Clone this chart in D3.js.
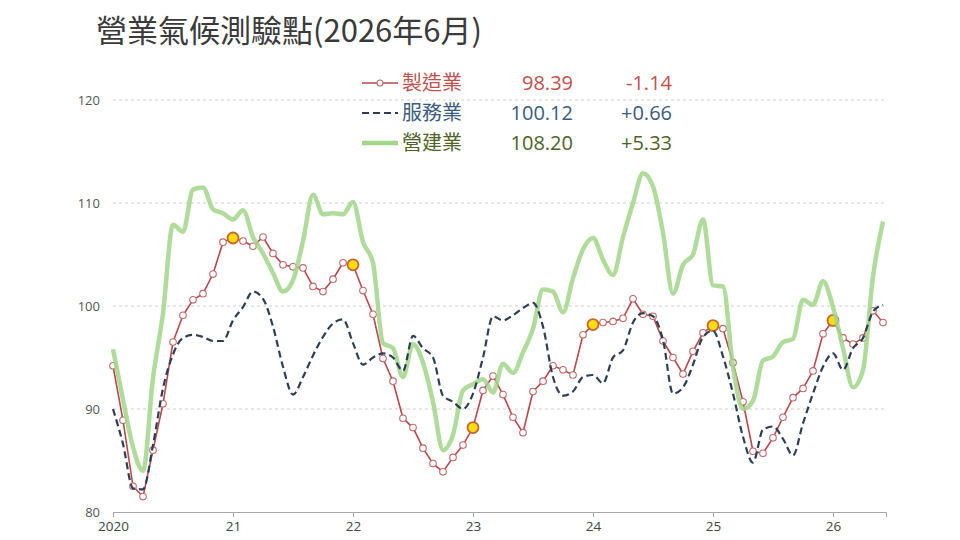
<!DOCTYPE html>
<html>
<head>
<meta charset="utf-8">
<script src="https://cdn.jsdelivr.net/npm/d3@7"></script>
<style>
  body { margin: 0; background: #fff; }
  svg { display: block; }
</style>
</head>
<body>
<script>
// monthly index: 0 = 2020-01 ... 77 = 2026-06
const yearTicks = [0, 12, 24, 36, 48, 60, 72];
const yearLabels = ["2020", "21", "22", "23", "24", "25", "26"];
const yTicks = [80, 90, 100, 110, 120];

const manufacturing = [
  94.2, 88.9, 82.5, 81.5, 86.0, 90.5, 96.5, 99.1, 100.6, 101.2, 103.1, 106.2,
  106.6, 106.3, 105.8, 106.7, 105.1, 104.0, 103.8, 103.7, 101.9, 101.4, 102.6, 104.2,
  104.0, 101.5, 99.2, 94.9, 92.7, 89.1, 88.2, 86.2, 84.7, 83.9, 85.3, 86.5,
  88.2, 91.8, 93.2, 91.4, 89.2, 87.7, 91.7, 92.7, 94.2, 93.8, 93.3, 97.2,
  98.2, 98.4, 98.5, 98.8, 100.7, 99.2, 99.0, 96.6, 95.0, 93.4, 95.6, 97.4,
  98.1, 97.8, 94.5, 90.7, 85.9, 85.7, 87.2, 89.2, 91.1, 92.0, 93.7, 97.3,
  98.6, 96.9, 96.3, 96.9, 99.53, 98.39
];

const services = [
  90.0, 86.6, 82.3, 82.2, 86.5, 92.0, 95.3, 96.9, 97.2, 97.0, 96.6, 96.6,
  98.6, 99.9, 101.4, 100.7, 98.0, 94.1, 91.4, 93.1, 95.2, 97.0, 98.3, 98.7,
  96.4, 94.3, 95.0, 95.4, 95.0, 93.7, 97.1, 95.9, 95.0, 91.3, 90.7, 90.0,
  91.5, 95.0, 99.0, 98.6, 99.1, 99.8, 100.3, 98.0, 93.1, 91.3, 91.7, 93.1,
  93.3, 92.5, 95.0, 95.7, 98.4, 99.3, 99.0, 96.7, 91.5, 92.1, 94.3, 97.0,
  97.6, 95.1, 91.5, 87.3, 84.8, 88.0, 88.3, 87.1, 85.5, 88.6, 91.5, 94.1,
  95.4, 93.8, 95.9, 96.9, 99.46, 100.12
];

const construction = [
  95.8, 90.9, 86.3, 84.0, 93.0, 99.3, 107.9, 107.2, 111.3, 111.5, 109.4, 109.0,
  108.4, 109.3, 106.7, 105.1, 103.2, 101.4, 102.5, 106.3, 110.8, 108.9, 109.0, 108.9,
  110.1, 106.2, 104.2, 96.4, 95.9, 93.1, 96.3, 94.5, 90.7, 86.0, 87.5, 91.8,
  92.4, 92.9, 91.6, 94.4, 93.5, 95.5, 97.8, 101.6, 101.4, 99.4, 102.7, 105.5,
  106.6, 104.5, 103.0, 106.7, 110.0, 112.9, 111.6, 107.1, 101.2, 104.0, 105.0, 108.4,
  102.0, 101.9, 94.1, 90.0, 90.8, 94.7, 95.1, 96.5, 96.8, 100.6, 100.1, 102.4,
  99.9, 95.9, 92.1, 93.8, 102.87, 108.20
];

const seriesNames = ["製造業", "服務業", "營建業"];
const latestValues = ["98.39", "100.12", "108.20"];
const changes = ["-1.14", "+0.66", "+5.33"];

const W = 960, H = 540;
const svg = d3.select("body").append("svg")
  .attr("width", W)
  .attr("height", H);

const x = d3.scaleLinear().domain([0, 77.3]).range([113, 886]);
const y = d3.scaleLinear().domain([80, 120]).range([512, 100]);

// title
svg.append("text")
  .attr("x", 96)
  .attr("y", 42)
  .attr("font-family", "'Noto Sans CJK TC', sans-serif")
  .attr("font-size", 31)
  .attr("fill", "#3a3a3a")
  .text("營業氣候測驗點(2026年6月)");

// gridlines
svg.append("g")
  .selectAll("line")
  .data(yTicks.filter(d => d > 80))
  .enter().append("line")
  .attr("x1", x(0))
  .attr("x2", x(77.3))
  .attr("y1", d => y(d))
  .attr("y2", d => y(d))
  .attr("stroke", "#cfcfcf")
  .attr("stroke-width", 1)
  .attr("stroke-dasharray", "3,3");

// y axis labels only
const yAxis = svg.append("g")
  .attr("transform", "translate(100,0)")
  .call(d3.axisLeft(y).tickValues(yTicks).tickSize(0).tickPadding(0));
yAxis.select(".domain").remove();
yAxis.selectAll("text")
  .attr("font-family", "'Open Sans', sans-serif")
  .attr("font-size", 13)
  .attr("fill", "#555");

// x axis
const xAxis = svg.append("g")
  .attr("transform", `translate(0,${y(80)})`)
  .call(d3.axisBottom(x)
    .tickValues(yearTicks)
    .tickFormat((d, i) => yearLabels[i])
    .tickSizeOuter(0)
    .tickSize(5)
    .tickPadding(4));
xAxis.select(".domain").attr("stroke", "#a6a6a6");
xAxis.selectAll(".tick line").attr("stroke", "#a6a6a6");
xAxis.selectAll("text")
  .attr("font-family", "'Open Sans', sans-serif")
  .attr("font-size", 13.5)
  .attr("fill", "#444");

const smooth = d3.line()
  .x((d, i) => x(i))
  .y(d => y(d))
  .curve(d3.curveMonotoneX);

const straight = d3.line()
  .x((d, i) => x(i))
  .y(d => y(d));

// manufacturing line + markers
svg.append("path")
  .datum(manufacturing)
  .attr("d", straight)
  .attr("fill", "none")
  .attr("stroke", "#b9474b")
  .attr("stroke-width", 1.6);

svg.append("g")
  .selectAll("circle")
  .data(manufacturing)
  .enter().append("circle")
  .attr("cx", (d, i) => x(i))
  .attr("cy", d => y(d))
  .attr("r", (d, i) => (i > 0 && i % 12 === 0) ? 5.5 : 3.3)
  .attr("fill", (d, i) => (i > 0 && i % 12 === 0) ? "#ffdc14" : "#fff")
  .attr("stroke", (d, i) => (i > 0 && i % 12 === 0) ? "#c8642a" : "#c0686b")
  .attr("stroke-width", (d, i) => (i > 0 && i % 12 === 0) ? 1.8 : 1.1);

// construction line
svg.append("path")
  .datum(construction)
  .attr("d", smooth)
  .attr("fill", "none")
  .attr("stroke", "#a2d689")
  .attr("stroke-opacity", 0.85)
  .attr("stroke-width", 4.5)
  .attr("stroke-linejoin", "round");

// services line
svg.append("path")
  .datum(services)
  .attr("d", smooth)
  .attr("fill", "none")
  .attr("stroke", "#2e3f55")
  .attr("stroke-width", 2.2)
  .attr("stroke-dasharray", "7,4");

// legend
const legendColors = ["#c0504d", "#3b5a80", "#4f6228"];
const legend = svg.append("g").attr("transform", "translate(362,83)");
const rows = legend.selectAll("g")
  .data(seriesNames)
  .enter().append("g")
  .attr("transform", (d, i) => `translate(0,${i * 30})`);

rows.each(function (d, i) {
  const g = d3.select(this);
  if (i === 0) {
    g.append("line").attr("x1", 0).attr("x2", 36).attr("y1", 0).attr("y2", 0)
      .attr("stroke", "#b9474b").attr("stroke-width", 1.6);
    g.append("circle").attr("cx", 18).attr("cy", 0).attr("r", 3)
      .attr("fill", "#fff").attr("stroke", "#c0686b").attr("stroke-width", 1.1);
  } else if (i === 1) {
    g.append("line").attr("x1", 0).attr("x2", 36).attr("y1", 0).attr("y2", 0)
      .attr("stroke", "#2e3f55").attr("stroke-width", 2.2).attr("stroke-dasharray", "7,4");
  } else {
    g.append("line").attr("x1", 0).attr("x2", 36).attr("y1", 0).attr("y2", 0)
      .attr("stroke", "#a2d689").attr("stroke-width", 4.5);
  }
  g.append("text")
    .attr("x", 40).attr("y", 7)
    .attr("font-family", "'Noto Sans CJK TC', sans-serif")
    .attr("font-size", 20)
    .attr("fill", legendColors[i])
    .text(d);
  g.append("text")
    .attr("x", 211).attr("y", 7)
    .attr("text-anchor", "end")
    .attr("font-family", "'Open Sans', sans-serif")
    .attr("font-size", 20)
    .attr("fill", legendColors[i])
    .text(latestValues[i]);
  g.append("text")
    .attr("x", 310).attr("y", 7)
    .attr("text-anchor", "end")
    .attr("font-family", "'Open Sans', sans-serif")
    .attr("font-size", 20)
    .attr("fill", legendColors[i])
    .text(changes[i]);
});
</script>
</body>
</html>
